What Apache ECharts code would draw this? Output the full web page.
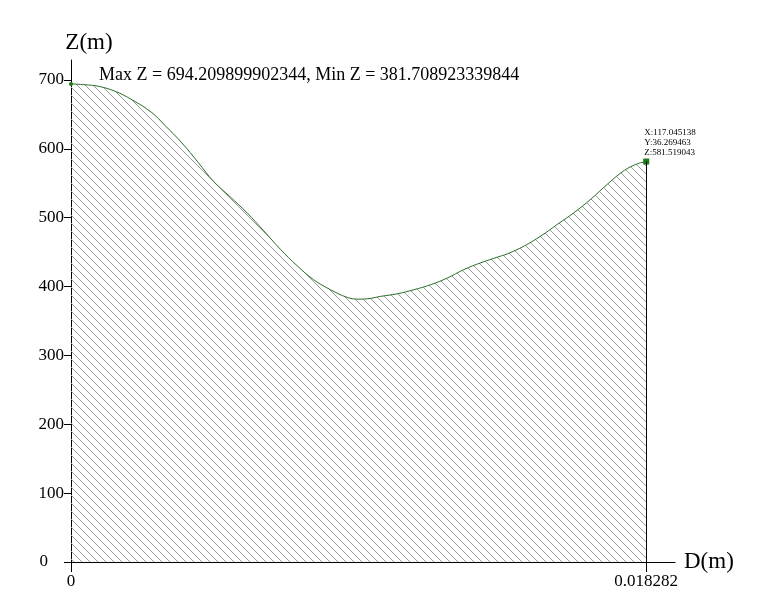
<!DOCTYPE html>
<html>
<head>
<meta charset="utf-8">
<script src="https://cdn.jsdelivr.net/npm/echarts@6/dist/echarts.min.js"></script>
<style>
html,body{margin:0;padding:0;background:#fff;}
#chart{width:784px;height:609px;}
</style>
</head>
<body>
<div id="chart"></div>
<script>
// Profile data: distance D(m) and elevation Z(m)
const distances = [0, 0.000446, 0.000870, 0.001401, 0.001933, 0.002570, 0.002994, 0.003526, 0.004045,
  0.004523, 0.005064, 0.005596, 0.006115, 0.006657, 0.007189, 0.007708, 0.008249, 0.008781, 0.009100,
  0.009418, 0.009842, 0.010374, 0.010893, 0.011434, 0.011966, 0.012485, 0.013027, 0.013559, 0.013877,
  0.014406, 0.014938, 0.015469, 0.015998, 0.016530, 0.017062, 0.017591, 0.018018, 0.018282];
const elevations = [694.21, 693.0, 690.8, 683.5, 671.3, 652.5, 633.5, 608.5, 580.0,
  553.0, 530.0, 507.0, 481.4, 454.0, 430.1, 410.0, 395.3, 384.2, 381.71,
  382.2, 385.7, 389.5, 395.3, 402.7, 412.5, 424.6, 434.5, 442.8, 447.6,
  458.9, 473.6, 490.6, 507.7, 527.2, 549.2, 568.8, 578.5, 581.52];
const yTickValues = [0, 100, 200, 300, 400, 500, 600, 700];
const xTickValues = [0, 0.018282];
const xTickLabels = ['0', '0.018282'];
const titleText = 'Max Z = 694.209899902344, Min Z = 381.708923339844';
const endInfo = ['X:117.045138', 'Y:36.269463', 'Z:581.519043'];

const FONT = '"Liberation Serif", "DejaVu Serif", serif';

// hatch pattern
const pc = document.createElement('canvas');
pc.width = 8; pc.height = 8;
const pctx = pc.getContext('2d');
pctx.fillStyle = '#9a9a9a';
for (let i = 0; i < 8; i++) pctx.fillRect(i, i, 1, 1);

const dEnd = distances[distances.length - 1];
const zEnd = elevations[elevations.length - 1];
const zMax = Math.max(...elevations);

const seriesData = distances.map((d, i) => {
  const item = { value: [d, elevations[i]] };
  if (i === 0) {
    item.symbol = 'circle'; item.symbolSize = 4;
    item.itemStyle = { color: '#1a7a1a' };
  } else if (i === distances.length - 1) {
    item.symbol = 'rect'; item.symbolSize = 6;
    item.itemStyle = { color: '#1a7a1a' };
    item.label = {
      show: true, position: [1, -31], align: 'left',
      formatter: endInfo.join('\n'),
      fontFamily: FONT, fontSize: 9, lineHeight: 10, color: '#000'
    };
  } else {
    item.symbol = 'none';
  }
  return item;
});

const chart = echarts.init(document.getElementById('chart'), null, { renderer: 'canvas' });
chart.setOption({
  animation: false,
  backgroundColor: '#fff',
  title: {
    text: titleText, left: 94, top: 61,
    textStyle: { fontFamily: FONT, fontSize: 18, fontWeight: 'normal', color: '#000' }
  },
  grid: { left: 71, right: 109, top: 60, bottom: 47, containLabel: false },
  xAxis: {
    type: 'value', min: 0, max: dEnd * 1.05,
    name: 'D(m)', nameLocation: 'end', nameGap: -4,
    nameTextStyle: { fontFamily: FONT, fontSize: 23, color: '#000', verticalAlign: 'middle' },
    axisLine: { show: true, onZero: false, lineStyle: { color: '#000', width: 1 } },
    axisTick: { show: true, customValues: xTickValues, length: 10, inside: false, lineStyle: { color: '#000' } },
    axisLabel: {
      customValues: xTickValues, margin: 11,
      formatter: v => xTickLabels[xTickValues.indexOf(v)] !== undefined ? xTickLabels[xTickValues.indexOf(v)] : '',
      fontFamily: FONT, fontSize: 17, color: '#000'
    },
    splitLine: { show: false }
  },
  yAxis: {
    type: 'value', min: 0, max: zMax * 1.05,
    name: 'Z(m)', nameLocation: 'end', nameGap: 6,
    nameTextStyle: { fontFamily: FONT, fontSize: 23, color: '#000', align: 'center', padding: [0, 0, 0, 36] },
    axisLine: { show: true, onZero: false, lineStyle: { color: '#000', width: 1 } },
    axisTick: { show: true, customValues: yTickValues, length: 7, lineStyle: { color: '#000' } },
    axisLabel: {
      customValues: yTickValues, margin: 7,
      formatter: v => v === 0 ? '{z|0}' : String(v),
      fontFamily: FONT, fontSize: 17, color: '#000',
      rich: { z: { fontFamily: FONT, fontSize: 17, color: '#000', padding: [0, 16, 0, 0] } }
    },
    splitLine: { show: false }
  },
  series: [{
    type: 'line',
    data: seriesData,
    smooth: 0.4,
    showSymbol: true,
    lineStyle: { color: '#2a6e2a', width: 1 },
    areaStyle: { color: { image: pc, repeat: 'repeat' }, opacity: 1 },
    markLine: {
      silent: true, symbol: 'none',
      label: { show: false },
      lineStyle: { color: '#000', type: 'solid', width: 1 },
      data: [[{ coord: [dEnd, 0] }, { coord: [dEnd, zEnd] }]]
    }
  }]
});
</script>
</body>
</html>
